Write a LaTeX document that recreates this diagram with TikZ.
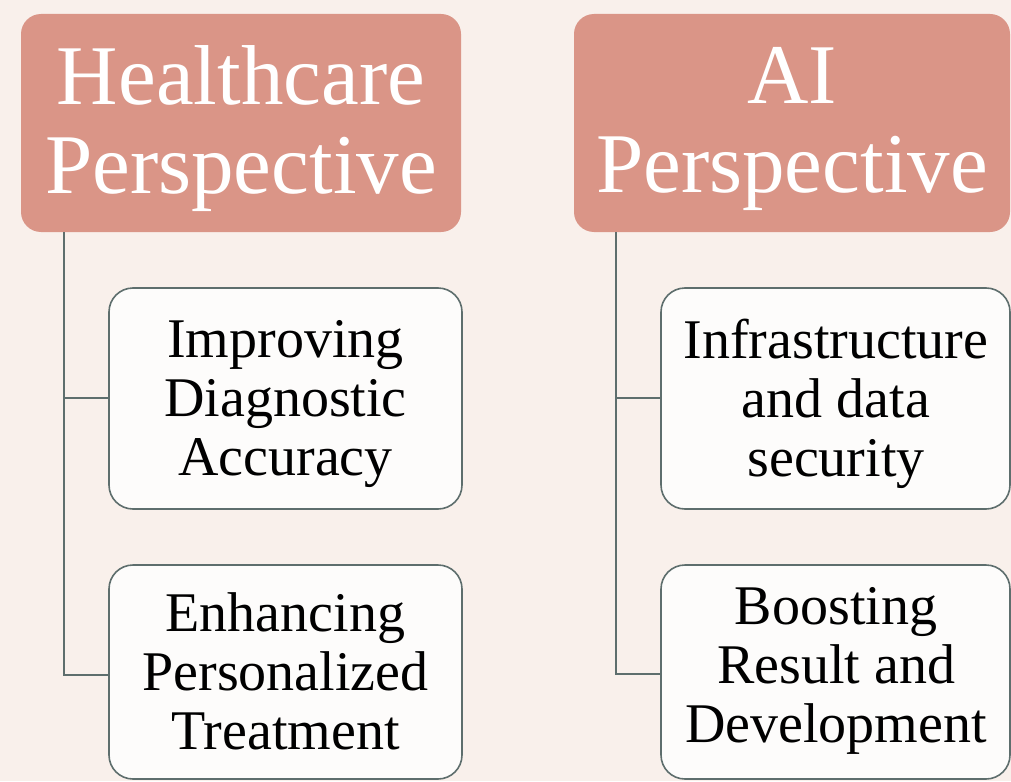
\documentclass[tikz,border=0pt]{standalone}
\usepackage{fontspec}
\setmainfont{Liberation Serif}
\definecolor{bgc}{HTML}{F9F0EB}
\definecolor{headc}{HTML}{DA9587}
\definecolor{linec}{HTML}{5E6E6D}
\definecolor{childc}{HTML}{FDFCFB}
\begin{document}
\begin{tikzpicture}[x=1pt,y=-1pt,
  head/.style={fill=headc, draw=none, rounded corners=20pt},
  child/.style={fill=childc, draw=linec, line width=1.6pt, rounded corners=24pt},
  headtext/.style={text=white, align=center, font=\fontsize{85}{89}\selectfont},
  childtext/.style={text=black, align=center, font=\fontsize{56}{59}\selectfont},
  conn/.style={draw=linec, line width=1.6pt}]
\fill[bgc] (0,0) rectangle (1011,781);
\useasboundingbox (0,0) rectangle (1011,781);
% header boxes
\draw[head] (21,14) rectangle (461,232);
\node[headtext] (h1) at (241,129) {Healthcare\\Perspective};
\draw[head] (574,14) rectangle (1010,232);
\node[headtext] (h2) at (792,129) {AI\\Perspective};
\coordinate (h1b) at (64,232);
\coordinate (h2b) at (616,232);
% child boxes
\draw[child] (109,288) rectangle (462,509);
\node[childtext] (c1) at (285.5,404) {Improving\\Diagnostic\\Accuracy};
\draw[child] (109,565) rectangle (462,779);
\node[childtext] (c2) at (285.5,671) {Enhancing\\Personalized\\Treatment};
\draw[child] (661,288) rectangle (1010,509);
\node[childtext] (c3) at (836,404) {Infrastructure\\and data\\security};
\draw[child] (661,565) rectangle (1010,779);
\node[childtext] (c4) at (836,671) {Boosting\\Result and\\Development};
\coordinate (c1l) at (109,398);
\coordinate (c2l) at (109,675);
\coordinate (c3l) at (661,398);
\coordinate (c4l) at (661,674);
% connectors
\draw[conn] (h1b) -- (h1b |- c2l) -- (c2l);
\draw[conn] (h1b |- c1l) -- (c1l);
\draw[conn] (h2b) -- (h2b |- c4l) -- (c4l);
\draw[conn] (h2b |- c3l) -- (c3l);
\end{tikzpicture}
\end{document}
